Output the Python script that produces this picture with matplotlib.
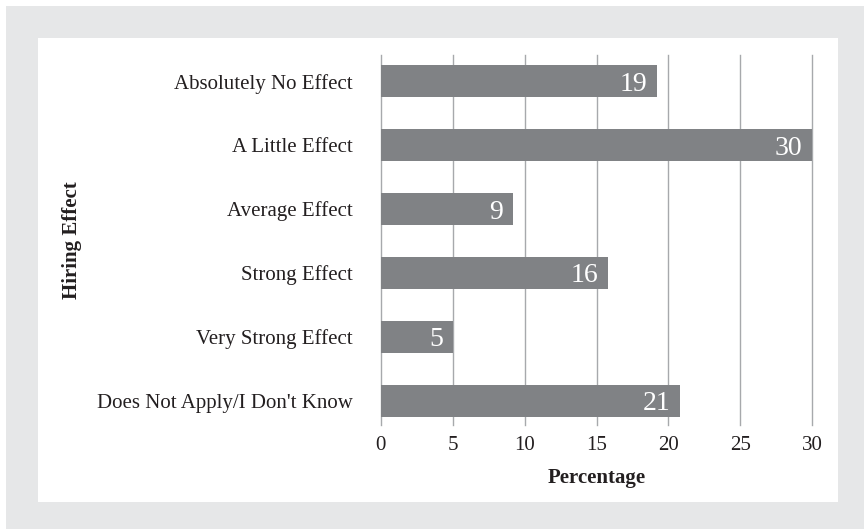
import matplotlib
matplotlib.use("Agg")
import matplotlib.pyplot as plt
from matplotlib.patches import Rectangle

plt.rcParams.update({
    "font.family": "serif",
    "font.serif": ["Liberation Serif", "DejaVu Serif"],
})

# ── Data ──
categories = [
    "Absolutely No Effect",
    "A Little Effect",
    "Average Effect",
    "Strong Effect",
    "Very Strong Effect",
    "Does Not Apply/I Don't Know",
]
percentages = [19.2, 30.0, 9.2, 15.8, 5.0, 20.8]
x_ticks = [0, 5, 10, 15, 20, 25, 30]

C_PANEL = "#e6e7e8"
C_BAR = "#808285"
C_GRID = "#a7a9ac"
C_TEXT = "#231f20"

W, H = 864, 529
fig = plt.figure(figsize=(W / 100, H / 100), dpi=100)
fig.patch.set_facecolor("white")

# grey outer panel and white inner card (pixel coords from top-left)
def px_rect(x0, y0, x1, y1, color):
    fig.patches.append(Rectangle((x0 / W, 1 - y1 / H), (x1 - x0) / W, (y1 - y0) / H,
                                 transform=fig.transFigure, facecolor=color,
                                 edgecolor="none", zorder=-2))

px_rect(6, 6, W, H, C_PANEL)
px_rect(38, 38, 838, 502, "white")

ax_l, ax_r, ax_t, ax_b = 380.7, 812.3, 55, 425
ax = fig.add_axes([ax_l / W, 1 - ax_b / H, (ax_r - ax_l) / W, (ax_b - ax_t) / H])
ax.set_facecolor("none")
ax.set_zorder(2)

ypos = list(range(len(categories)))
ax.barh(ypos, percentages, height=0.5, color=C_BAR, edgecolor="none", zorder=3)

for y, v in zip(ypos, percentages):
    ax.annotate(f"{v:.0f}", xy=(v, y), xytext=(-7, 0), textcoords="offset points",
                ha="right", va="center_baseline", color="white", fontsize=20, zorder=4)

ax.set_xlim(0, 30)
ax.set_ylim(5.38, -0.41)
ax.set_xticks(x_ticks)
ax.set_yticks(ypos)
ax.set_yticklabels(categories, fontsize=14.8)
ax.tick_params(axis="both", length=0, labelsize=15, colors=C_TEXT)
ax.tick_params(axis="y", pad=20)
ax.tick_params(axis="x", pad=8)

for xv in x_ticks:
    ax.axvline(xv, color=C_GRID, lw=1.0, zorder=1, clip_on=False)

for s in ax.spines.values():
    s.set_visible(False)

ax.set_xlabel("Percentage", fontsize=15, fontweight="bold", color=C_TEXT, labelpad=9)
fig.text(72 / W, 1 - 240 / H, "Hiring Effect", rotation=90, ha="center", va="center",
         fontsize=15, fontweight="bold", color=C_TEXT)

fig.savefig("out.png", dpi=100, facecolor="white")
